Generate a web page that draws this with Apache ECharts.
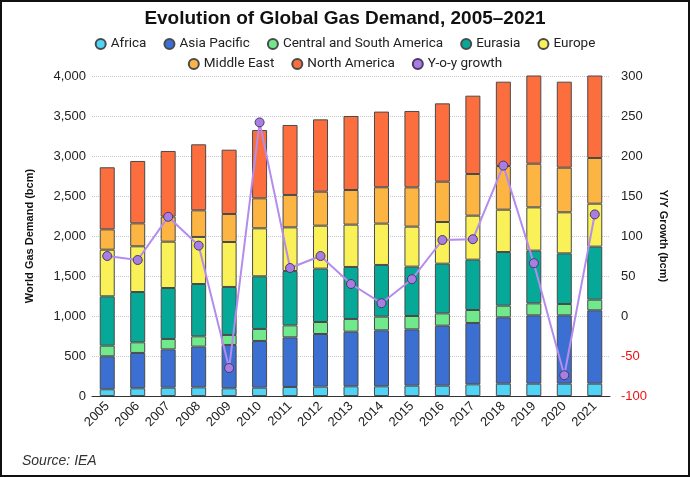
<!DOCTYPE html>
<html>
<head>
<meta charset="utf-8">
<script src="https://cdn.jsdelivr.net/npm/echarts@6/dist/echarts.min.js"></script>
<style>
  html, body { margin: 0; padding: 0; background: #fff; }
  #frame { width: 686px; height: 473px; border: 2px solid #111; position: relative; }
  #chart { width: 686px; height: 473px; }
</style>
</head>
<body>
<div id="frame"><div id="chart"></div></div>
<script>
// years and regional demand (bcm)
var years = ['2005','2006','2007','2008','2009','2010','2011','2012','2013','2014','2015','2016','2017','2018','2019','2020','2021'];
var africa       = [84, 96, 104, 108, 96, 104, 113, 117, 121, 121, 129, 129, 146, 154, 154, 154, 154];
var asiaPacific  = [412, 442, 479, 509, 542, 584, 620, 658, 683, 700, 704, 750, 767, 829, 854, 854, 917];
var csAmerica    = [133, 133, 130, 129, 125, 150, 150, 150, 159, 171, 167, 154, 162, 146, 150, 142, 133];
var eurasia      = [617, 629, 637, 654, 600, 658, 680, 667, 650, 646, 617, 621, 629, 671, 659, 633, 663];
var europe       = [583, 571, 579, 588, 562, 600, 545, 537, 529, 517, 500, 521, 550, 529, 541, 513, 537];
var middleEast   = [254, 287, 313, 333, 350, 375, 405, 425, 433, 454, 491, 504, 521, 546, 546, 558, 571];
var northAmerica = [776, 780, 821, 825, 804, 854, 875, 904, 925, 946, 955, 979, 979, 1054, 1146, 1075, 1125];
var yoyGrowth    = [75, 70, 124, 88, -65, 242, 60, 75, 40, 16, 46, 95, 96, 188, 66, -74, 127];

var leftTicks = { min: 0, max: 4000, interval: 500 };
var rightTicks = { min: -100, max: 300, interval: 50 };

var colors = {
  'Africa': '#4fd3f6',
  'Asia Pacific': '#3b70d2',
  'Central and South America': '#6fe98c',
  'Eurasia': '#06a898',
  'Europe': '#f9f157',
  'Middle East': '#fcb542',
  'North America': '#fd6e3e',
  'Y-o-y growth': '#a87ee3'
};

var stackData = [
  ['Africa', africa],
  ['Asia Pacific', asiaPacific],
  ['Central and South America', csAmerica],
  ['Eurasia', eurasia],
  ['Europe', europe],
  ['Middle East', middleEast],
  ['North America', northAmerica]
];

var font = 'Liberation Sans';

var series = stackData.map(function (d) {
  return {
    name: d[0],
    type: 'bar',
    stack: 'demand',
    barWidth: 15,
    data: d[1],
    itemStyle: { color: colors[d[0]], borderColor: '#4a4a4a', borderWidth: 1 },
    emphasis: { disabled: true }
  };
});

series.push({
  name: 'Y-o-y growth',
  type: 'line',
  yAxisIndex: 1,
  data: yoyGrowth,
  z: 10,
  symbol: 'circle',
  symbolSize: 9,
  lineStyle: { color: '#b58cee', width: 2 },
  itemStyle: { color: '#a87ee3', borderColor: '#4a3a66', borderWidth: 1 }
});

var chart = echarts.init(document.getElementById('chart'));

var legendText = { fontFamily: 'Roboto', fontSize: 13.5, color: '#222' };

chart.setOption({
  animation: false,
  title: {
    text: 'Evolution of Global Gas Demand, 2005\u20132021',
    left: 'center',
    top: 2,
    textStyle: { fontFamily: font, fontWeight: 'bold', fontSize: 19, color: '#111' }
  },
  legend: [
    {
      top: 30,
      left: 'center',
      icon: 'circle',
      itemWidth: 10,
      itemHeight: 10,
      itemGap: 17,
      textStyle: legendText,
      data: ['Africa', 'Asia Pacific', 'Central and South America', 'Eurasia', 'Europe']
    },
    {
      top: 50,
      left: 'center',
      icon: 'circle',
      itemWidth: 10,
      itemHeight: 10,
      itemGap: 17,
      textStyle: legendText,
      data: ['Middle East', 'North America', 'Y-o-y growth']
    }
  ],
  color: Object.keys(colors).map(function (k) { return colors[k]; }),
  grid: { left: 90, right: 78, top: 74, bottom: 79 },
  xAxis: {
    type: 'category',
    data: years,
    axisLine: { lineStyle: { color: '#333', width: 1 } },
    axisTick: { alignWithLabel: false, length: 6, lineStyle: { color: '#333' } },
    axisLabel: { rotate: 45, fontFamily: font, fontSize: 13, color: '#222', margin: 8 }
  },
  yAxis: [
    {
      type: 'value',
      min: leftTicks.min,
      max: leftTicks.max,
      interval: leftTicks.interval,
      name: 'World Gas Demand (bcm)',
      nameLocation: 'middle',
      nameGap: 57,
      nameTextStyle: { fontFamily: font, fontWeight: 'bold', fontSize: 11, color: '#111' },
      axisLine: { show: false },
      axisTick: { show: false },
      axisLabel: {
        fontFamily: font, fontSize: 13, color: '#222', margin: 6,
        formatter: function (v) { return v.toLocaleString('en-US'); }
      },
      splitLine: { lineStyle: { type: 'dotted', color: '#c8c8c8' } }
    },
    {
      type: 'value',
      min: rightTicks.min,
      max: rightTicks.max,
      interval: rightTicks.interval,
      name: 'Y/Y Growth (bcm)',
      nameLocation: 'middle',
      nameGap: 46,
      nameRotate: -90,
      nameTextStyle: { fontFamily: font, fontWeight: 'bold', fontSize: 11, color: '#111' },
      axisLine: { show: false },
      axisTick: { show: false },
      axisLabel: {
        fontFamily: font, fontSize: 13, margin: 11,
        color: function (v) { return Number(v) < 0 ? '#ee1111' : '#222'; }
      },
      splitLine: { show: false }
    }
  ],
  graphic: [
    {
      type: 'text',
      left: 20,
      top: 452,
      style: { text: 'Source: IEA', fontFamily: font, fontStyle: 'italic', fontSize: 14, fill: '#333' }
    }
  ],
  series: series
});
</script>
</body>
</html>
